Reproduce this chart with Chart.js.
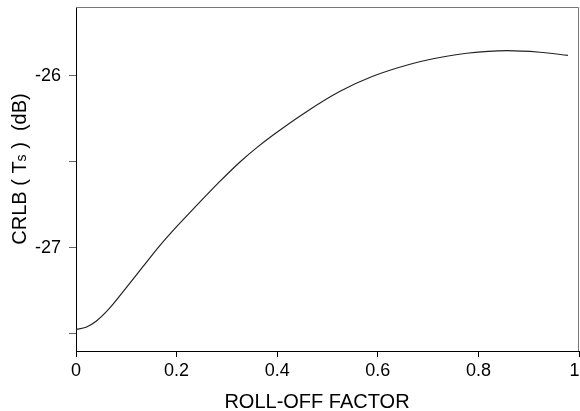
<!DOCTYPE html>
<html>
<head>
<meta charset="utf-8">
<script src="https://cdn.jsdelivr.net/npm/chart.js@4.4.0/dist/chart.umd.min.js"></script>
<style>
  html, body { margin: 0; padding: 0; background: #fff; }
  #wrap { width: 580px; height: 411px; }
</style>
</head>
<body>
<div id="wrap"><canvas id="crlbChart"></canvas></div>
<script>
// values
const rollOff = [0, 0.02, 0.04, 0.066, 0.1, 0.133, 0.165, 0.2, 0.232, 0.285, 0.326, 0.36, 0.392, 0.459, 0.525, 0.59, 0.664, 0.71, 0.777, 0.857, 0.922, 0.978];
const crlb = [-27.474, -27.462, -27.427, -27.354, -27.232, -27.11, -26.993, -26.877, -26.778, -26.617, -26.501, -26.416, -26.344, -26.207, -26.09, -26.003, -25.933, -25.901, -25.869, -25.854, -25.863, -25.881];
const xTicks = [0, 0.2, 0.4, 0.6, 0.8, 1];
const yTicks = [-27.5, -27, -26.5, -26];
const yLabels = ['', '-27', '', '-26'];

const FONT = '"Liberation Sans", Arial, sans-serif';

// box round the plot and the two axis titles (the y title has a small "s")
const framePlugin = {
    id: 'frame',
    afterDraw(chart) {
        const { ctx, chartArea: a } = chart;
        ctx.save();
        ctx.strokeStyle = '#777';
        ctx.lineWidth = 1;
        ctx.beginPath();
        ctx.moveTo(a.left, a.top + 0.5);
        ctx.lineTo(a.right - 0.5, a.top + 0.5);
        ctx.lineTo(a.right - 0.5, a.bottom);
        ctx.stroke();

        ctx.fillStyle = '#000';
        ctx.font = '20px ' + FONT;
        ctx.textAlign = 'center';
        ctx.textBaseline = 'alphabetic';
        ctx.fillText('ROLL-OFF FACTOR', 317, 408);

        // y title, rotated
        const parts = [['CRLB ( T', 20], ['s', 14], [' )  (dB)', 20]];
        let total = 0;
        parts.forEach(p => { ctx.font = p[1] + 'px ' + FONT; total += ctx.measureText(p[0]).width; });
        ctx.translate(26, 169);
        ctx.rotate(-Math.PI / 2);
        ctx.textAlign = 'left';
        let x = -total / 2;
        parts.forEach(p => {
            ctx.font = p[1] + 'px ' + FONT;
            ctx.fillText(p[0], x, 0);
            x += ctx.measureText(p[0]).width;
        });
        ctx.restore();
    }
};

document.addEventListener('DOMContentLoaded', function () {
    const ctx = document.getElementById('crlbChart').getContext('2d');
    new Chart(ctx, {
        type: 'line',
        data: {
            datasets: [{
                data: rollOff.map((r, i) => ({ x: r, y: crlb[i] })),
                borderColor: '#222',
                borderWidth: 1.2,
                pointRadius: 0,
                fill: false,
                cubicInterpolationMode: 'monotone'
            }]
        },
        options: {
            responsive: true,
            maintainAspectRatio: false,
            animation: false,
            events: [],
            layout: { padding: { left: 0, right: 1, top: 7, bottom: 0 } },
            plugins: { legend: { display: false }, tooltip: { enabled: false } },
            scales: {
                x: {
                    type: 'linear',
                    min: 0,
                    max: 1,
                    afterBuildTicks: scale => { scale.ticks = xTicks.map(v => ({ value: v })); },
                    afterFit: scale => { scale.height = 60; scale.paddingLeft = 0; scale.paddingRight = 0; },
                    grid: { drawOnChartArea: false, drawTicks: true, tickLength: 6, color: '#000', tickColor: '#000' },
                    border: { display: true, color: '#000', width: 1 },
                    ticks: {
                        color: '#000',
                        font: { family: FONT, size: 18 },
                        padding: 3,
                        maxRotation: 0,
                        // the last label sits a little to the left so it stays inside the window
                        callback: v => v === 1 ? '1\u2002' : String(v)
                    }
                },
                y: {
                    type: 'linear',
                    min: -27.6,
                    max: -25.6,
                    afterBuildTicks: scale => { scale.ticks = yTicks.map(v => ({ value: v })); },
                    afterFit: scale => { scale.width = 76; scale.paddingTop = 0; scale.paddingBottom = 0; },
                    grid: { drawOnChartArea: false, drawTicks: true, tickLength: 7, color: '#666', tickColor: '#666' },
                    border: { display: true, color: '#000', width: 1 },
                    ticks: {
                        color: '#000',
                        font: { family: FONT, size: 18 },
                        padding: 8,
                        callback: v => yLabels[yTicks.indexOf(v)] ?? ''
                    }
                }
            }
        },
        plugins: [framePlugin]
    });
});
</script>
</body>
</html>
